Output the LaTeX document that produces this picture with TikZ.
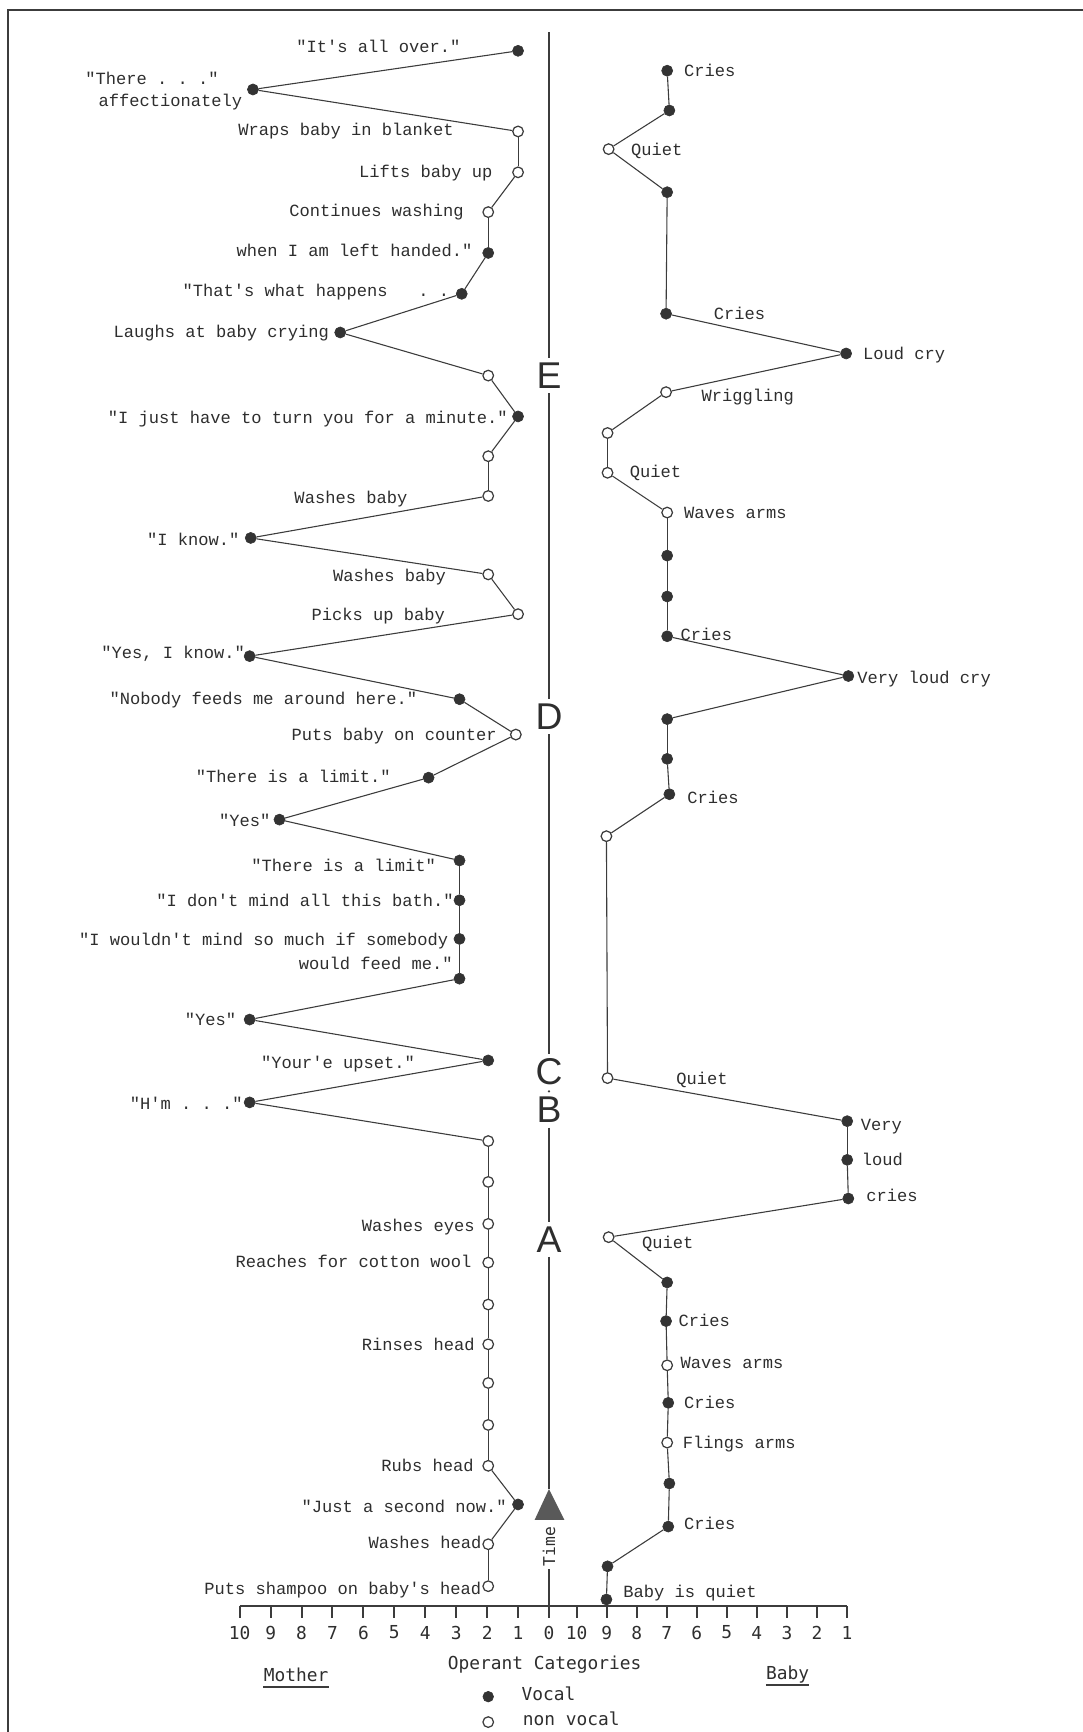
\documentclass[tikz,border=0pt]{standalone}
\usepackage{fontspec}
\setmonofont{Liberation Mono}
\newfontfamily\lgfont{DejaVu Sans Mono}
\newfontfamily\hvfont{Liberation Sans}
\definecolor{ink}{HTML}{2E2E2E}
\definecolor{lin}{HTML}{3C3C3C}
\definecolor{dotc}{HTML}{333333}
\begin{document}
\begin{tikzpicture}[x=0.025cm,y=-0.025cm,
  dotv/.style={circle,fill=dotc,draw=dotc,inner sep=0pt,minimum size=2.5mm,line width=0.4pt},
  doto/.style={circle,fill=white,draw=lin,inner sep=0pt,minimum size=2.4mm,line width=0.8pt},
  conn/.style={draw=lin,line width=0.7pt},
  ml/.style={anchor=mid east,inner sep=0pt,yshift=-1.8pt,text=ink,font=\ttfamily\fontsize{11}{13}\selectfont},
  br/.style={anchor=mid west,inner sep=0pt,yshift=-1.8pt,text=ink,font=\ttfamily\fontsize{11}{13}\selectfont},
  lg/.style={inner sep=0pt,text=ink,font=\lgfont\fontsize{11.5}{13}\selectfont},
  axlet/.style={inner sep=0pt,outer sep=3pt,text=ink,font=\hvfont\fontsize{24}{24}\selectfont},
  axisln/.style={draw=lin,line width=1.4pt},
  haxis/.style={draw=lin,line width=1.7pt},
  tickln/.style={draw=lin,line width=1.3pt}]
\useasboundingbox (0,0) rectangle (980,1568);
% frame
\draw[line width=1.5pt,draw=lin] (7,1568) -- (7,9) -- (980,9);
% central time axis
\coordinate (vtop) at (497,29);
\node[axlet] (lE) at (497,340) {E};
\node[axlet] (lD) at (497,649) {D};
\node[axlet] (lC) at (497,970) {C};
\node[axlet] (lB) at (497,1005) {B};
\node[axlet] (lA) at (497,1122) {A};
\node[circle,fill=lin,inner sep=0pt,minimum size=1.6pt] (cb) at (497,988) {};
\coordinate (tri) at (497,1348);
\coordinate (triL) at (484,1376);
\coordinate (triR) at (511,1376);
\node[inner sep=0pt,outer sep=2pt,rotate=90,text=ink,font=\lgfont\fontsize{10.5}{12}\selectfont] (time) at (497,1400) {Time};
\coordinate (v0) at (497,1454);
\draw[axisln] (vtop) -- (lE);
\draw[axisln] (lE) -- (lD);
\draw[axisln] (lD) -- (lC);
\draw[axisln] (lB) -- (lA);
\draw[axisln] (lA) -- (tri);
\draw[axisln] (time) -- (v0);
\fill[lin!85] (tri) -- (triL) -- (triR) -- cycle;
% horizontal axis
\coordinate (hL) at (217,1454);
\coordinate (hR) at (767,1454);
\draw[haxis] (hL) -- (hR);
\foreach \c in {0,...,10} {
  \draw[tickln] (497-28*\c,1454) -- ++(0,11);
  \node[lg] at (497-28*\c,1478) {\c};
}
\foreach \c in {1,...,10} {
  \draw[tickln] (522+27.2*10-27.2*\c,1454) -- ++(0,11);
  \node[lg] at (522+27.2*10-27.2*\c,1478) {\c};
}
\node[lg] (opc) at (493,1507) {Operant Categories};
\node[lg] (mother) at (268,1516) {Mother};
\draw[line width=1.2pt,draw=lin] ([yshift=-3.5pt]mother.base west) -- ([yshift=-3.5pt]mother.base east);
\node[lg] (baby) at (713,1516) {Baby};
\draw[line width=1.2pt,draw=lin] ([yshift=-3.5pt]baby.base west) -- ([yshift=-3.5pt]baby.base east);
\node[dotv,minimum size=2.4mm] (legv) at (442,1536) {};
\node[lg,anchor=mid west] (legvt) at (472,1536) {Vocal};
\node[doto,minimum size=2.4mm] (lego) at (442,1559) {};
\node[lg,anchor=mid west] (legot) at (473,1559) {non vocal};
% mother points
\foreach \n/\x/\y/\t in {1/469/46/dotv,2/229/81/dotv,3/469/119/doto,4/469/156/doto,5/442/192/doto,
  6/442/229/dotv,7/418/266/dotv,8/308/301/dotv,9/442/340/doto,10/469/377/dotv,
  11/442/413/doto,12/442/449/doto,13/227/487/dotv,14/442/520/doto,15/469/556/doto,
  16/226/594/dotv,17/416/633/dotv,18/467/665/doto,19/388/704/dotv,20/253/742/dotv,
  21/416/779/dotv,22/416/815/dotv,23/416/850/dotv,24/416/886/dotv,25/226/923/dotv,
  26/442/960/dotv,27/226/998/dotv,28/442/1033/doto,29/442/1070/doto,30/442/1108/doto,
  31/442/1143/doto,32/442/1181/doto,33/442/1217/doto,34/442/1252/doto,35/442/1290/doto,
  36/442/1327/doto,37/469/1362/dotv,38/442/1398/doto,39/442/1436/doto}
  \node[\t] (m\n) at (\x,\y) {};
\foreach \i [count=\j from 2] in {1,...,38} \draw[conn] (m\i) -- (m\j);
% baby points
\foreach \n/\x/\y/\t in {1/604/64/dotv,2/606/100/dotv,3/551/135/doto,4/604/174/dotv,5/603/284/dotv,
  6/766/320/dotv,7/603/355/doto,8/550/392/doto,9/550/428/doto,10/604/464/doto,
  11/604/503/dotv,12/604/540/dotv,13/604/576/dotv,14/768/612/dotv,15/604/651/dotv,
  16/604/687/dotv,17/606/719/dotv,18/549/757/doto,19/550/976/doto,20/767/1015/dotv,
  21/767/1050/dotv,22/768/1085/dotv,23/551/1120/doto,24/604/1161/dotv,25/603/1196/dotv,
  26/604/1236/doto,27/605/1270/dotv,28/604/1306/doto,29/606/1343/dotv,30/605/1382/dotv,
  31/550/1418/dotv,32/549/1448/dotv}
  \node[\t] (b\n) at (\x,\y) {};
\foreach \i [count=\j from 2] in {1,...,31} \draw[conn] (b\i) -- (b\j);
% mother labels
\node[ml] (tm1) at (417,42) {"It's all over."};
\node[ml,anchor=mid west] (tm2a) at (77,71) {"There . . ."};
\node[ml,anchor=mid west] (tm2b) at (89,91) {affectionately};
\node[ml] (tm3) at (411,117) {Wraps baby in blanket};
\node[ml] (tm4) at (446,155) {Lifts baby up};
\node[ml] (tm5) at (420,190) {Continues washing};
\node[ml] (tm6) at (428,227) {when I am left handed."};
\node[ml,anchor=mid west] (tm7) at (165,263) {"That's what happens\ \ \ .\ .};
\node[ml] (tm8) at (298,300) {Laughs at baby crying};
\node[ml] (tm10) at (460,378) {"I just have to turn you for a minute."};
\node[ml] (tm12) at (369,450) {Washes baby};
\node[ml] (tm13) at (217,488) {"I know."};
\node[ml] (tm14) at (404,521) {Washes baby};
\node[ml] (tm15) at (403,556) {Picks up baby};
\node[ml] (tm16) at (222,591) {"Yes, I know."};
\node[ml] (tm17) at (378,632) {"Nobody feeds me around here."};
\node[ml] (tm18) at (450,665) {Puts baby on counter};
\node[ml] (tm19) at (354,703) {"There is a limit."};
\node[ml] (tm20) at (245,743) {"Yes"};
\node[ml] (tm21) at (395,783) {"There is a limit"};
\node[ml] (tm22) at (411,815) {"I don't mind all this bath."};
\node[ml] (tm23a) at (406,850) {"I wouldn't mind so much if somebody};
\node[ml] (tm23b) at (410,872) {would feed me."};
\node[ml] (tm25) at (214,923) {"Yes"};
\node[ml] (tm26) at (376,962) {"Your'e upset."};
\node[ml] (tm27) at (220,999) {"H'm . . ."};
\node[ml] (tm30) at (430,1109) {Washes eyes};
\node[ml] (tm31) at (427,1142) {Reaches for cotton wool};
\node[ml] (tm33) at (430,1217) {Rinses head};
\node[ml] (tm36) at (429,1327) {Rubs head};
\node[ml] (tm37) at (459,1364) {"Just a second now."};
\node[ml] (tm38) at (436,1396) {Washes head};
\node[ml] (tm39) at (436,1438) {Puts shampoo on baby's head};
% baby labels
\node[br] (tb1) at (619,64) {Cries};
\node[br] (tb3) at (571,135) {Quiet};
\node[br] (tb5) at (646,284) {Cries};
\node[br] (tb6) at (781,320) {Loud cry};
\node[br] (tb7) at (635,358) {Wriggling};
\node[br] (tb9) at (570,427) {Quiet};
\node[br] (tb10) at (619,464) {Waves arms};
\node[br] (tb13) at (616,574) {Cries};
\node[br] (tb14) at (776,613) {Very loud cry};
\node[br] (tb17) at (622,722) {Cries};
\node[br] (tb19) at (612,976) {Quiet};
\node[br] (tb20) at (779,1018) {Very};
\node[br] (tb21) at (780,1050) {loud};
\node[br] (tb22) at (784,1082) {cries};
\node[br] (tb23) at (581,1125) {Quiet};
\node[br] (tb25) at (614,1195) {Cries};
\node[br] (tb26) at (616,1233) {Waves arms};
\node[br] (tb27) at (619,1270) {Cries};
\node[br] (tb28) at (618,1306) {Flings arms};
\node[br] (tb30) at (619,1379) {Cries};
\node[br] (tb32) at (564,1441) {Baby is quiet};
\end{tikzpicture}
\end{document}
